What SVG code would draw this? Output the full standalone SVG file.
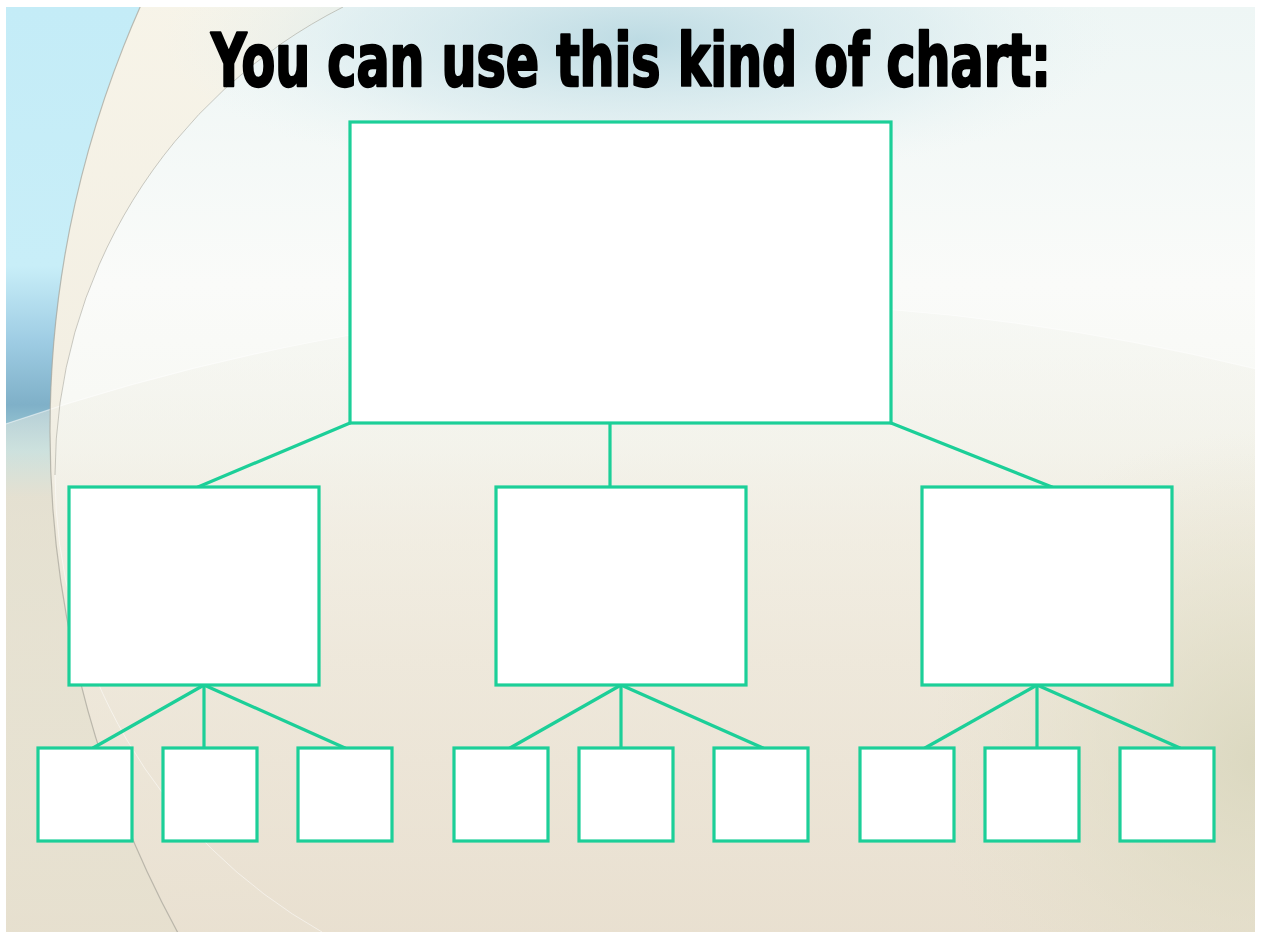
<svg xmlns="http://www.w3.org/2000/svg" width="1262" height="935" viewBox="0 0 1262 935">
<style>
.node rect{fill:#ffffff;stroke:#1ccf98;stroke-width:3.2}
.conn line{stroke:#1ccf98;stroke-width:3.2;stroke-linecap:round}
.title{font-family:"Liberation Sans Narrow","DejaVu Sans Condensed","Liberation Sans",sans-serif;font-weight:bold;font-size:73px;fill:#000;stroke:#000;stroke-width:2.4;stroke-linejoin:round}
</style>
<defs>
<clipPath id="page"><rect x="6" y="7" width="1249" height="925"/></clipPath>
<linearGradient id="leftStrip" x1="0" y1="0" x2="0" y2="1">
<stop offset="0" stop-color="#c4ecf7"/>
<stop offset="0.28" stop-color="#c8eef8"/>
<stop offset="0.36" stop-color="#9fcde4"/>
<stop offset="0.43" stop-color="#7fb0c8"/>
<stop offset="0.48" stop-color="#a8d4d8"/>
<stop offset="0.53" stop-color="#d6d2bf"/>
<stop offset="1" stop-color="#dde2cc"/>
</linearGradient>
<linearGradient id="outerFill" x1="0" y1="0" x2="0" y2="1">
<stop offset="0" stop-color="#eef5e8"/>
<stop offset="0.25" stop-color="#f8f5ea"/>
<stop offset="0.5" stop-color="#f2eee2"/>
<stop offset="1" stop-color="#ece3d6"/>
</linearGradient>
<linearGradient id="innerFill" x1="0" y1="0" x2="0" y2="1">
<stop offset="0" stop-color="#eef6f5"/>
<stop offset="0.3" stop-color="#fafbf9"/>
<stop offset="0.48" stop-color="#f7f8f3"/>
<stop offset="0.7" stop-color="#f1ece1"/>
<stop offset="1" stop-color="#ece3d5"/>
</linearGradient>
<radialGradient id="topWash" cx="640" cy="40" r="480" gradientUnits="userSpaceOnUse" gradientTransform="translate(640 40) scale(1 0.3) translate(-640 -40)">
<stop offset="0" stop-color="#b4d6e0" stop-opacity="0.85"/>
<stop offset="0.6" stop-color="#cfe6ec" stop-opacity="0.45"/>
<stop offset="1" stop-color="#e6f3f4" stop-opacity="0"/>
</radialGradient>
<linearGradient id="lowerFill" x1="0" y1="0" x2="0" y2="1">
<stop offset="0" stop-color="#f1f4ee" stop-opacity="0.35"/>
<stop offset="0.35" stop-color="#efeadd" stop-opacity="0.6"/>
<stop offset="1" stop-color="#e8dfcf" stop-opacity="0.85"/>
</linearGradient>
<radialGradient id="rightTint" cx="1260" cy="760" r="330" gradientUnits="userSpaceOnUse">
<stop offset="0" stop-color="#d8d6bc" stop-opacity="0.85"/>
<stop offset="1" stop-color="#e2e0c8" stop-opacity="0"/>
</radialGradient>
</defs>

<g id="background" clip-path="url(#page)">
<rect x="6" y="7" width="1249" height="925" fill="url(#leftStrip)"/>
<circle cx="1097" cy="432" r="1047" fill="url(#outerFill)"/>
<path d="M343,7 A525,525 0 0 0 55,475 A525,525 0 0 0 322,932 L1260,932 L1260,7 Z" fill="url(#innerFill)"/>
<path d="M-40,440 Q620,200 1300,380 L1300,940 L-40,940 Z" fill="url(#lowerFill)" stroke="#ffffff" stroke-width="1.2" stroke-opacity="0.5"/>
<rect x="6" y="380" width="1249" height="552" fill="url(#rightTint)"/>
<rect x="6" y="7" width="1249" height="250" fill="url(#topWash)"/>
<path d="M343,7 A525,525 0 0 0 55,475" fill="none" stroke="#a9a79c" stroke-width="1" stroke-opacity="0.6"/>
<path d="M55,475 A525,525 0 0 0 322,932" fill="none" stroke="#ffffff" stroke-width="1" stroke-opacity="0.5"/>
<path d="M1097,-615 A1047,1047 0 0 0 50,432 A1047,1047 0 0 0 420,1230" fill="none" stroke="#a9a79c" stroke-width="1.2" stroke-opacity="0.75"/>
</g>

<text class="title" x="0" y="0" transform="translate(211 86) scale(0.6774 1)" textLength="1240" lengthAdjust="spacingAndGlyphs">You can use this kind of chart:</text>

<g id="connectors" class="conn">
<line x1="350" y1="423" x2="198" y2="487"/>
<line x1="610" y1="423" x2="610" y2="487"/>
<line x1="891" y1="423" x2="1052" y2="487"/>
<line x1="204" y1="685" x2="93" y2="748"/>
<line x1="204" y1="685" x2="204" y2="748"/>
<line x1="204" y1="685" x2="345" y2="748"/>
<line x1="621" y1="685" x2="510" y2="748"/>
<line x1="621" y1="685" x2="621" y2="748"/>
<line x1="621" y1="685" x2="763" y2="748"/>
<line x1="1037" y1="685" x2="925" y2="748"/>
<line x1="1037" y1="685" x2="1037" y2="748"/>
<line x1="1037" y1="685" x2="1180" y2="748"/>
</g>

<g id="node-top" class="node"><rect x="350" y="122" width="541" height="301"/></g>
<g id="node-mid-left" class="node"><rect x="69" y="487" width="250" height="198"/></g>
<g id="node-mid-center" class="node"><rect x="496" y="487" width="250" height="198"/></g>
<g id="node-mid-right" class="node"><rect x="922" y="487" width="250" height="198"/></g>
<g id="node-l1" class="node"><rect x="38" y="748" width="94" height="93"/></g>
<g id="node-l2" class="node"><rect x="163" y="748" width="94" height="93"/></g>
<g id="node-l3" class="node"><rect x="298" y="748" width="94" height="93"/></g>
<g id="node-c1" class="node"><rect x="454" y="748" width="94" height="93"/></g>
<g id="node-c2" class="node"><rect x="579" y="748" width="94" height="93"/></g>
<g id="node-c3" class="node"><rect x="714" y="748" width="94" height="93"/></g>
<g id="node-r1" class="node"><rect x="860" y="748" width="94" height="93"/></g>
<g id="node-r2" class="node"><rect x="985" y="748" width="94" height="93"/></g>
<g id="node-r3" class="node"><rect x="1120" y="748" width="94" height="93"/></g>
</svg>
